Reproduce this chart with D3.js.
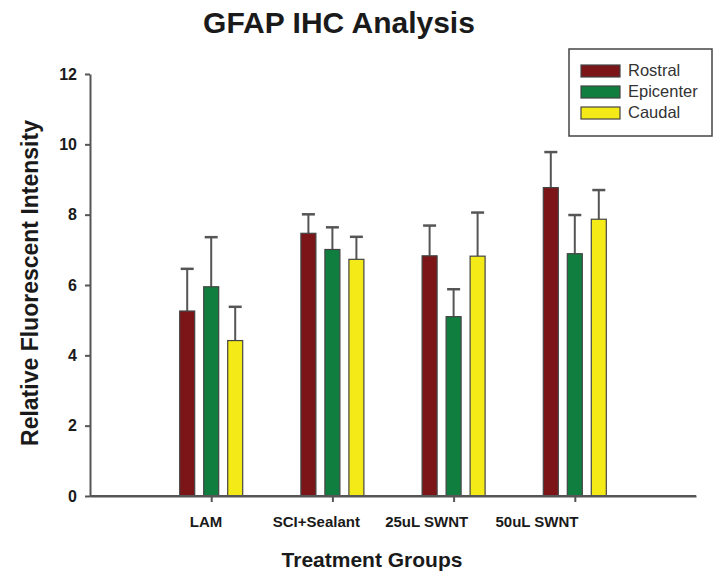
<!DOCTYPE html>
<html lang="en">
<head>
<meta charset="utf-8">
<title>GFAP IHC Analysis</title>
<script src="https://cdn.jsdelivr.net/npm/d3@7"></script>
<style>
  body { margin: 0; background: #fff; }
  svg { display: block; font-family: "Liberation Sans", Arial, sans-serif; }
  .axis path, .axis line { stroke: #555; stroke-width: 2; }
  .axis text { font-size: 16px; font-weight: bold; fill: #1a1a1a; }
</style>
</head>
<body>
<div id="chart"></div>
<script>
// treatment groups and series
var groups = ["LAM", "SCI+Sealant", "25uL SWNT", "50uL SWNT"];
var series = ["Rostral", "Epicenter", "Caudal"];
var colors = ["#7b1517", "#0f7e3e", "#f4ea18"];

// mean values per series (one per group)
var rostral   = [5.26, 7.47, 6.83, 8.77];
var epicenter = [5.95, 7.01, 5.10, 6.89];
var caudal    = [4.42, 6.73, 6.82, 7.87];

// top of error bar (mean + error)
var rostralErr   = [6.46, 8.01, 7.69, 9.78];
var epicenterErr = [7.36, 7.64, 5.88, 7.99];
var caudalErr    = [5.38, 7.37, 8.06, 8.70];

var yTicks = [0, 2, 4, 6, 8, 10, 12];

var values = [rostral, epicenter, caudal];
var errs = [rostralErr, epicenterErr, caudalErr];

var data = [];
groups.forEach(function(g, i) {
  series.forEach(function(s, j) {
    data.push({ group: g, gi: i, series: s, si: j, value: values[j][i], err: errs[j][i] });
  });
});

var width = 722, height = 573;
var svg = d3.select("#chart").append("svg")
  .attr("width", width)
  .attr("height", height);

var x = d3.scaleLinear().domain([0, groups.length + 1]).range([90, 696]);
var y = d3.scaleLinear().domain([0, 12]).range([496, 74]);
var offset = d3.scalePoint().domain(series).range([-24, 24]);
var color = d3.scaleOrdinal().domain(series).range(colors);
// labels sit a bit left of the ticks in the original
var labelX = d3.scaleLinear().domain([0, groups.length - 1]).range([206, 537]);
var barW = 15;

// y axis
svg.append("g")
  .attr("class", "axis")
  .attr("transform", "translate(90,0)")
  .call(d3.axisLeft(y).tickValues(yTicks).tickSize(5).tickSizeOuter(0).tickPadding(8));

// x axis
svg.append("g")
  .attr("class", "axis")
  .attr("transform", "translate(0,496)")
  .call(d3.axisBottom(x).tickValues(d3.range(1, groups.length + 1)).tickSize(6).tickSizeOuter(0).tickFormat(""));

// error bars
var eb = svg.append("g").selectAll("g")
  .data(data)
  .enter().append("g");
eb.append("line")
  .attr("x1", function(d) { return x(d.gi + 1) + offset(d.series); })
  .attr("x2", function(d) { return x(d.gi + 1) + offset(d.series); })
  .attr("y1", function(d) { return y(d.value); })
  .attr("y2", function(d) { return y(d.err); })
  .attr("stroke", "#555")
  .attr("stroke-width", 2);
eb.append("line")
  .attr("x1", function(d) { return x(d.gi + 1) + offset(d.series) - 6.5; })
  .attr("x2", function(d) { return x(d.gi + 1) + offset(d.series) + 6.5; })
  .attr("y1", function(d) { return y(d.err); })
  .attr("y2", function(d) { return y(d.err); })
  .attr("stroke", "#555")
  .attr("stroke-width", 2.5);

// bars
svg.append("g").selectAll("rect")
  .data(data)
  .enter().append("rect")
  .attr("x", function(d) { return x(d.gi + 1) + offset(d.series) - barW / 2; })
  .attr("y", function(d) { return y(d.value); })
  .attr("width", barW)
  .attr("height", function(d) { return y(0) - y(d.value); })
  .attr("fill", function(d) { return color(d.series); })
  .attr("stroke", "#444")
  .attr("stroke-width", 1.2);

// redraw baseline over bars
svg.append("line")
  .attr("x1", 90).attr("x2", 696)
  .attr("y1", 496).attr("y2", 496)
  .attr("stroke", "#555").attr("stroke-width", 2);

// group labels
svg.append("g").selectAll("text")
  .data(groups)
  .enter().append("text")
  .attr("x", function(d, i) { return labelX(i); })
  .attr("y", 527)
  .attr("text-anchor", "middle")
  .style("font-size", "15px")
  .style("font-weight", "bold")
  .style("fill", "#1a1a1a")
  .text(function(d) { return d; });

// titles
svg.append("text")
  .attr("x", 339).attr("y", 33)
  .attr("text-anchor", "middle")
  .style("font-size", "30px").style("font-weight", "bold").style("fill", "#1a1a1a")
  .text("GFAP IHC Analysis");

svg.append("text")
  .attr("x", 372).attr("y", 567)
  .attr("text-anchor", "middle")
  .style("font-size", "21px").style("font-weight", "bold").style("fill", "#1a1a1a")
  .text("Treatment Groups");

svg.append("text")
  .attr("transform", "translate(38,283) rotate(-90)")
  .attr("text-anchor", "middle")
  .style("font-size", "23px").style("font-weight", "bold").style("fill", "#1a1a1a")
  .text("Relative Fluorescent Intensity");

// legend
var legend = svg.append("g").attr("transform", "translate(569,49)");
legend.append("rect")
  .attr("width", 143).attr("height", 87)
  .attr("fill", "#fff").attr("stroke", "#444").attr("stroke-width", 1.5);
var li = legend.selectAll(".li")
  .data(series)
  .enter().append("g")
  .attr("class", "li")
  .attr("transform", function(d, i) { return "translate(12," + (16 + i * 21) + ")"; });
li.append("rect")
  .attr("width", 39).attr("height", 12)
  .attr("fill", function(d) { return color(d); })
  .attr("stroke", "#444").attr("stroke-width", 1.2);
li.append("text")
  .attr("x", 47).attr("y", 11)
  .style("font-size", "16.5px").style("fill", "#333")
  .text(function(d) { return d; });
</script>
</body>
</html>
